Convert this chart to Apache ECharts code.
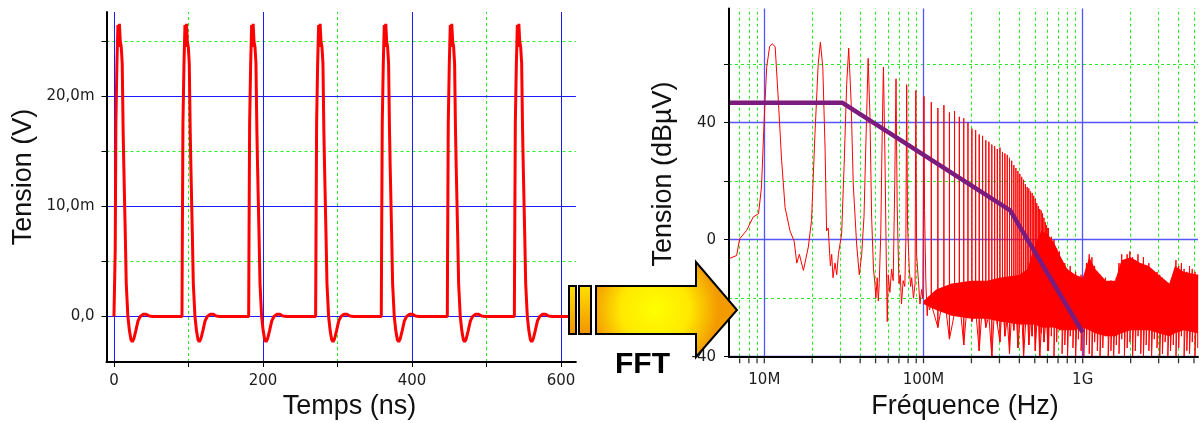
<!DOCTYPE html>
<html>
<head>
<meta charset="utf-8">
<title>Signal et FFT</title>
<script src="https://cdn.jsdelivr.net/npm/echarts@6/dist/echarts.min.js"></script>
<style>
  html, body { margin: 0; padding: 0; background: #fff; }
  #chart { width: 1200px; height: 423px; }
</style>
</head>
<body>
<div id="chart"></div>
<script>
// ---- signal temporel : temps en ns, tension en mV ----
const pulseStarts = [1.3, 91.3, 180.8, 270.7, 358.8, 447.4, 537.4];
const pulseShapeT = [0, 0.4, 1.3, 2.7, 4.0, 5.0, 6.0, 7.2, 8.5, 9.8, 11.0, 12.0, 13.9, 15.2, 17.4, 19.5, 21.5, 23.3, 25.5, 28, 31, 34, 38, 42, 46, 51];
const pulseShapeV = [0, 6, 17.6, 23, 26.5, 24.5, 26.6, 25, 24.5, 23, 17, 13.5, 7.5, 3, 0, -1.3, -2.1, -2.3, -2.0, -1.3, -0.4, 0, 0.2, 0.2, 0.05, 0];
const timeTicks = [0, 100, 200, 300, 400, 500, 600];
const timeLabels = [0, 200, 400, 600];
const timeMinor = [100, 300, 500];
const voltTicks = [0, 5, 10, 15, 20, 25];
const voltLabels = [0, 10, 20];
const voltMinor = [5, 15, 25];

// ---- spectre : frequence en MHz, niveau en dBuV ----
// debut du spectre, harmoniques bien separees
const lowMHz = [6.0, 6.7, 7.0, 7.75, 8.5, 9.2, 9.6, 10.0, 10.35, 10.8, 11.2, 11.7, 12.25, 12.85, 13.5, 14.5, 15.4, 16.0, 16.6, 17.6,
  18.9, 19.8, 20.8, 21.8, 22.5, 23.3, 24.1, 24.6, 25.2, 26.0, 26.5, 27.0, 27.8, 28.5, 29.2, 30.6, 31.7, 32.9, 33.9, 35.1,
  36.2, 38.0, 39.5, 40.9, 42.3, 43.6, 44.9, 46.1, 47.2, 48.5, 49.5, 50.2, 51.2, 52.0, 52.7, 53.9, 55.0, 56.0, 57.2, 58.4,
  59.2, 60.0, 61.5, 63.0, 64.5, 66.0, 67.2, 68.3, 70.1, 71.5, 72.7, 74.5, 76.3, 77.5, 78.4, 79.4, 81.4, 83.0, 84.3, 86.5,
  88.5, 89.5, 90.5, 92.9, 95.0, 97.4, 99.0, 100.7, 101.5, 103.5, 105.5, 107, 109];
const lowDb = [-6.5, -5.4, 0.3, 3.2, 7.7, 8.9, 18, 42, 59, 66, 67, 66, 47.6, 27, 11, 3, -0.5, -8, -5, -10.5,
  -2.5, 6.6, 36, 60, 67.5, 59, 30.5, 3, 4, -9, -5, -13, -8, -12, -5, 2, 25, 53, 65.5, 47,
  19, -1.5, -12, -5, 8, 36, 62, 42, 8, -10, -15, -20, -13, -21, -15, 2, 36, 59, 30, -8,
  -28, -12, -18, -10, -14, 20, 55, 12, -15, -12, -22, -14, -16, 0, 53, 5, -10, -16, -13, -20,
  -15, 51, -5, -14, -22, -17, -20, 49, 10, -15, -26, -20, -24];
// harmoniques serrees (raies)
const harmMHz = [111.9, 123.1, 134.3, 145.5, 156.7, 167.9, 179.0, 190.2, 201.4, 212.6, 223.8, 235.0, 246.2, 257.4, 268.6,
  279.8, 290.9, 302.1, 313.3, 324.5, 335.7, 346.9, 358.1, 369.3, 380.5, 391.7, 402.8, 414.0, 425.2, 436.4,
  447.6, 458.8, 470.0, 481.2, 492.4, 503.6, 514.7, 525.9, 537.1, 548.3, 559.5, 570.7, 581.9, 593.1, 604.3];
const harmPeak = [47, 45, 46, 43.5, 44, 42, 41.5, 40, 38, 37.5, 36, 35.5, 34, 33.5, 32.5,
  32, 31, 31.5, 30, 29.5, 29, 28, 27, 25.5, 24.5, 23.5, 22.5, 21.5, 20.5, 19,
  18, 17.5, 16.5, 16, 15, 14, 12.5, 11.5, 10.5, 10, 9, 7.5, 6, 5, 4];
const harmDip = [-22, -30, -18, -34, -25, -20, -36, -19, -28, -24, -38, -21, -30, -26, -40,
  -23, -29, -35, -20, -33, -27, -39, -24, -31, -22, -37, -28, -25, -40, -30,
  -23, -36, -27, -33, -21, -38, -29, -26, -40, -32, -24, -35, -30, -27, -38];
// bruit haute frequence
const noiseMHz = [610, 635, 660, 686, 714, 742, 772, 803, 835, 868, 903, 939, 977, 1016, 1056, 1099, 1143, 1188, 1236, 1285,
  1337, 1390, 1446, 1504, 1564, 1626, 1691, 1759, 1829, 1902, 1979, 2058, 2140, 2226, 2315, 2407, 2504, 2604, 2708, 2816,
  2929, 3046, 3168, 3295, 3426, 3563, 3706, 3854, 4008, 4169, 4335, 4509, 4689, 4877, 5072, 5275];
const noiseHigh = [4, 1, 0, -3, -4, -7, -8, -10, -9, -12, -11, -13, -12, -14, -8, -5, -6, -9, -11, -12,
  -14, -13, -15, -14, -15, -13, -8, -5, -7, -5, -4, -6, -7, -5, -8, -6, -9, -8, -10, -11,
  -11, -12, -13, -14, -15, -16, -12, -7, -9, -8, -10, -11, -9, -10, -11, -12];
const noiseLow = [-38, -33, -40, -35, -31, -39, -36, -40, -33, -37, -40, -34, -38, -40, -36, -39, -40, -35, -38, -40,
  -37, -33, -40, -38, -40, -36, -39, -34, -40, -37, -35, -40, -38, -33, -39, -40, -36, -38, -40, -34,
  -37, -40, -39, -35, -40, -38, -36, -40, -37, -33, -40, -38, -39, -35, -40, -37];
// coeur dense du plancher de bruit
const bandMHz = [100, 120, 150, 200, 250, 300, 400, 450, 500, 550, 600, 660, 730, 800, 900, 1000, 1100, 1200, 1400, 1600, 1750, 2000, 2300, 2600, 3000, 3500, 3800, 4300, 5300];
const bandTop = [-21, -17, -15, -14, -14, -13, -12, -10, -2, 3, 2, -1, -6, -10, -12, -13, -6, -10, -14, -14, -7, -6, -8, -9, -12, -15, -9, -11, -12];
const bandLow = [-22, -24, -26, -27, -27, -28, -29, -29, -29, -30, -30, -30, -31, -31, -31, -30, -31, -32, -33, -33, -32, -31, -31, -31, -32, -33, -32, -31, -32];
// gabarit (enveloppe)
const limitMHz = [6, 31, 350, 1000];
const limitDb = [46.8, 46.8, 10, -31.7];

const freqMajor = [10, 100, 1000];
const freqMinor = [7, 8, 9, 20, 30, 40, 50, 60, 70, 80, 90, 200, 300, 400, 500, 600, 700, 800, 900, 2000, 3000, 4000, 5000];
const dbTicks = [-40, -20, 0, 20, 40, 60];
const dbLabels = [-40, 0, 40];
const dbMinor = [-20, 20, 60];

// construction des series
const signal = [[0, 0]];
pulseStarts.forEach(t0 => {
  pulseShapeT.forEach((dt, i) => signal.push([t0 + dt, pulseShapeV[i]]));
});
signal.push([620, 0]);

const spectrum = lowMHz.map((f, i) => [f, lowDb[i]]);
harmMHz.forEach((f, i) => {
  spectrum.push([f, harmDip[i]], [f, harmPeak[i]], [f, harmDip[i]]);
});
noiseMHz.forEach((f, i) => {
  spectrum.push([f, noiseHigh[i]], [f, noiseLow[i]]);
});

const GREEN = '#22ee22';
function gridMarks(xMajor, xMinor, yMajor, yMinor, blue, blueWidth) {
  const solid = () => ({ color: blue, width: blueWidth, type: 'solid' });
  const dashed = () => ({ color: GREEN, width: 1, type: [3, 3] });
  return [].concat(
    xMinor.map(v => ({ xAxis: v, lineStyle: dashed() })),
    yMinor.map(v => ({ yAxis: v, lineStyle: dashed() })),
    xMajor.map(v => ({ xAxis: v, lineStyle: solid() })),
    yMajor.map(v => ({ yAxis: v, lineStyle: solid() }))
  );
}

const tickFont = { fontFamily: 'DejaVu Sans', fontSize: 15, color: '#1c1c1c' };
const axisBlack = { onZero: false, lineStyle: { color: '#000', width: 2 } };

const chart = echarts.init(document.getElementById('chart'));
chart.setOption({
  animation: false,
  grid: [
    { left: 106.5, top: 12, width: 469.4, height: 350 },
    { left: 729, top: 8.6, width: 469, height: 348.1 }
  ],
  xAxis: [
    {
      type: 'value', gridIndex: 0, min: -10, max: 620, z: 6,
      axisLine: axisBlack,
      axisTick: { customValues: timeTicks, length: 5, lineStyle: { color: '#000' } },
      axisLabel: Object.assign({ customValues: timeLabels, margin: 12 }, tickFont),
      splitLine: { show: false }
    },
    {
      type: 'log', gridIndex: 1, logBase: 10, min: 6, max: 5300, z: 6,
      axisLine: axisBlack,
      axisTick: { show: false },
      axisLabel: Object.assign({
        margin: 16, showMinLabel: false, showMaxLabel: false,
        formatter: v => {
          const r = Math.round(v);
          return r >= 1000 ? Math.round(r / 1000) + 'G' : r + 'M';
        }
      }, tickFont),
      splitLine: { show: false },
      minorSplitLine: { show: false }
    }
  ],
  yAxis: [
    {
      type: 'value', gridIndex: 0, min: -4.136, max: 27.682, z: 6,
      axisLine: axisBlack,
      axisTick: { customValues: voltTicks, length: 5, lineStyle: { color: '#000' } },
      axisLabel: Object.assign({
        customValues: voltLabels, margin: 12,
        formatter: v => v === 0 ? '0,0' : v.toFixed(1).replace('.', ',') + 'm'
      }, tickFont),
      splitLine: { show: false }
    },
    {
      type: 'value', gridIndex: 1, min: -40, max: 79, z: 6,
      axisLine: axisBlack,
      axisTick: { customValues: dbTicks, length: 5, lineStyle: { color: '#000' } },
      axisLabel: Object.assign({ customValues: dbLabels, margin: 13 }, tickFont),
      splitLine: { show: false }
    }
  ],
  series: [
    {
      name: 'Tension', type: 'line', xAxisIndex: 0, yAxisIndex: 0,
      data: signal, symbol: 'none', z: 2,
      lineStyle: { color: '#ff0000', width: 3 },
      markLine: {
        silent: true, symbol: ['none', 'none'], z: 1, label: { show: false },
        data: gridMarks(timeLabels, timeMinor, voltLabels, voltMinor, '#1a1aff', 1)
      }
    },
    {
      // plancher de bruit dense, dessine comme une bande entre bandLow et bandTop
      name: 'band', type: 'custom', xAxisIndex: 1, yAxisIndex: 1, z: 2,
      data: bandMHz.map((f, i) => [f, bandTop[i], bandLow[i]]),
      encode: { x: 0, y: [1, 2] },
      renderItem: (params, api) => {
        if (params.dataIndex !== 0) return null;
        const top = bandMHz.map((f, i) => api.coord([f, bandTop[i]]));
        const bottom = bandMHz.map((f, i) => api.coord([f, bandLow[i]])).reverse();
        return { type: 'polygon', shape: { points: top.concat(bottom) }, style: { fill: '#ff0000' } };
      }
    },
    {
      name: 'Spectre', type: 'line', xAxisIndex: 1, yAxisIndex: 1,
      data: spectrum, symbol: 'none', z: 3,
      lineStyle: { color: '#ff0000', width: 1 },
      markLine: {
        silent: true, symbol: ['none', 'none'], z: 1, label: { show: false },
        data: gridMarks(freqMajor, freqMinor, dbLabels, dbMinor, '#5555ff', 1.3)
      }
    },
    {
      name: 'Gabarit', type: 'line', xAxisIndex: 1, yAxisIndex: 1,
      data: limitMHz.map((f, i) => [f, limitDb[i]]), symbol: 'none', z: 4,
      lineStyle: { color: '#7a1b7d', width: 4.5 }
    },
    {
      // graduations de l'axe log
      name: 'ticks', type: 'scatter', xAxisIndex: 1, yAxisIndex: 1,
      data: freqMajor.concat(freqMinor).map(f => [f, -40]),
      symbol: 'rect', symbolSize: [1.3, 5], symbolOffset: [0, 4],
      itemStyle: { color: '#000' }, clip: false, silent: true, z: 7
    }
  ],
  graphic: [
    { type: 'text', x: 349.5, y: 407, z: 50,
      style: { text: 'Temps (ns)', font: '27px "Liberation Sans"', fill: '#111', align: 'center', verticalAlign: 'middle' } },
    { type: 'text', x: 23.5, y: 177, rotation: Math.PI / 2, z: 50,
      style: { text: 'Tension (V)', font: '27px "Liberation Sans"', fill: '#111', align: 'center', verticalAlign: 'middle' } },
    { type: 'text', x: 965, y: 407, z: 50,
      style: { text: 'Fréquence (Hz)', font: '27px "Liberation Sans"', fill: '#111', align: 'center', verticalAlign: 'middle' } },
    { type: 'text', x: 663.5, y: 174, rotation: Math.PI / 2, z: 50,
      style: { text: 'Tension (dBµV)', font: '27px "Liberation Sans"', fill: '#111', align: 'center', verticalAlign: 'middle' } },
    // fleche FFT
    { type: 'rect', z: 100, shape: { x: 569, y: 286, width: 7, height: 48 },
      style: { stroke: '#000', lineWidth: 2,
        fill: { type: 'linear', x: 0, y: 0, x2: 0, y2: 1, colorStops: [{ offset: 0, color: '#ffe000' }, { offset: 1, color: '#f29200' }] } } },
    { type: 'rect', z: 100, shape: { x: 579, y: 286, width: 12, height: 48 },
      style: { stroke: '#000', lineWidth: 2,
        fill: { type: 'linear', x: 0, y: 0, x2: 0, y2: 1, colorStops: [{ offset: 0, color: '#ffe000' }, { offset: 1, color: '#f29200' }] } } },
    { type: 'polygon', z: 100,
      shape: { points: [[596, 286], [696, 286], [696, 262], [737, 310], [696, 357], [696, 334], [596, 334]] },
      style: { stroke: '#000', lineWidth: 2,
        fill: { type: 'radial', x: 0.42, y: 0.5, r: 0.65,
          colorStops: [{ offset: 0, color: '#ffff00' }, { offset: 0.55, color: '#ffe800' }, { offset: 1, color: '#f39a00' }] } } },
    { type: 'text', x: 642.5, y: 365, z: 100,
      style: { text: 'FFT', font: 'bold 30px "Liberation Sans"', fill: '#000', align: 'center', verticalAlign: 'middle' } }
  ]
});
</script>
</body>
</html>
